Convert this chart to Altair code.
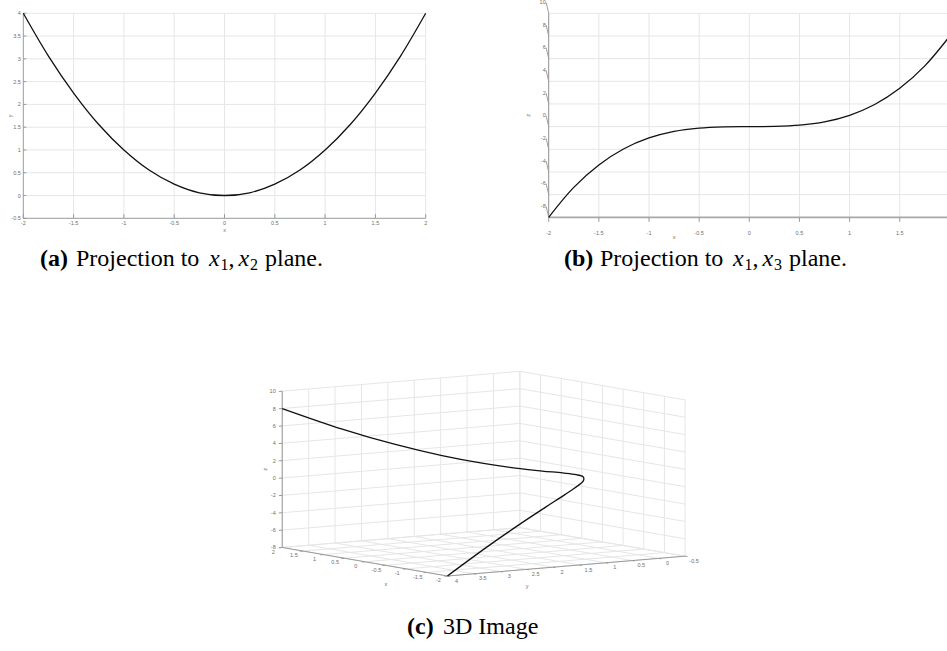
import math
import altair as alt
import pandas as pd

# Sampled points of the curve: (x1, x2, x3)
X1 = [-2.0, -1.75, -1.5, -1.25, -1.0, -0.75, -0.5, -0.25, 0.0,
      0.25, 0.5, 0.75, 1.0, 1.25, 1.5, 1.75, 2.0]
X2 = [4.0, 3.06, 2.25, 1.56, 1.0, 0.56, 0.25, 0.06, 0.0,
      0.06, 0.25, 0.56, 1.0, 1.56, 2.25, 3.06, 4.0]
X3 = [-8.0, -5.36, -3.38, -1.95, -1.0, -0.42, -0.13, -0.02, 0.0,
      0.02, 0.13, 0.42, 1.0, 1.95, 3.38, 5.36, 8.0]

# Axis ticks
X_TICKS = [-2, -1.5, -1, -0.5, 0, 0.5, 1, 1.5, 2]
Y_TICKS = [-0.5, 0, 0.5, 1, 1.5, 2, 2.5, 3, 3.5, 4]
Z_TICKS = [-8, -6, -4, -2, 0, 2, 4, 6, 8, 10]

GRID = "#e6e6e6"
AXIS = "#9a9a9a"
LABEL = "#6e6e6e"
SANS = "Liberation Sans"
SERIF = "Liberation Serif"
TICK_FS = 5.5


def fmt(v):
    return str(int(v)) if float(v).is_integer() else str(v)


def enc(sx, sy, two=False):
    e = dict(x=alt.X("x:Q", scale=sx, axis=None),
             y=alt.Y("y:Q", scale=sy, axis=None))
    if two:
        e.update(x2="x2:Q", y2="y2:Q")
    return e


def segments(rows, sx, sy, color, width=1.0):
    df = pd.DataFrame(rows, columns=["x", "y", "x2", "y2"])
    return alt.Chart(df).mark_rule(color=color, strokeWidth=width).encode(**enc(sx, sy, True))


def labels(rows, sx, sy, **kw):
    df = pd.DataFrame(rows, columns=["x", "y", "t"])
    opts = dict(font=SANS, fontSize=TICK_FS, color=LABEL, baseline="middle")
    opts.update(kw)
    return alt.Chart(df).mark_text(**opts).encode(text="t:N", **enc(sx, sy))


def curve(xs, ys, sx, sy):
    df = pd.DataFrame({"x": xs, "y": ys, "i": list(range(len(xs)))})
    return alt.Chart(df).mark_line(color="#111111", strokeWidth=1.3,
                                   interpolate="catmull-rom").encode(order="i:Q", **enc(sx, sy))


layers = []

# ---------- (a) x1-x2 projection ----------
ax = alt.Scale(domain=[-2, 2], range=[23.3, 425.7])
ay = alt.Scale(domain=[-0.5, 4], range=[218.3, 13.3])
layers.append(segments([(v, -0.5, v, 4) for v in X_TICKS[1:]] +
                       [(-2, v, 2, v) for v in Y_TICKS[1:]], ax, ay, GRID))
layers.append(segments([(-2, -0.5, -2, 4), (-2, -0.5, 2, -0.5)], ax, ay, AXIS))
layers.append(segments([(v, -0.5, v, -0.41) for v in X_TICKS] +
                       [(-2, v, -1.97, v) for v in Y_TICKS], ax, ay, AXIS))
layers.append(curve(X1, X2, ax, ay))
layers.append(labels([(v, -0.5, fmt(v)) for v in X_TICKS], ax, ay, dy=5))
layers.append(labels([(-2, v, fmt(v)) for v in Y_TICKS], ax, ay, align="right", dx=-2.5))
layers.append(labels([(0, -0.5, "x")], ax, ay, dy=11.7))
# rotated titles: dy moves the text sideways on screen
layers.append(labels([(-2, 1.75, "y")], ax, ay, dy=-13.3, angle=270))

# ---------- (b) x1-x3 projection ----------
bx = alt.Scale(domain=[-2, 2], range=[548.7, 949.9])
by = alt.Scale(domain=[-8, 10], range=[217.3, 13.3])
layers.append(segments([(v, -8, v, 10) for v in X_TICKS[1:]] +
                       [(-2, v, 2, v) for v in Z_TICKS[1:]], bx, by, GRID))
layers.append(segments([(-2, -8, -2, 10)], bx, by, "#8f8f8f"))
layers.append(segments([(-2, -8, 2, -8)], bx, by, "#a8a8a8", 1.7))
layers.append(segments([(v, -8, v, -8.4) for v in X_TICKS], bx, by, AXIS))
layers.append(segments([(-2.025, v + 0.95, -2, v) for v in Z_TICKS], bx, by, "#a0a0a0"))
layers.append(curve(X1, X3, bx, by))
# the last tick (x = 2) sits on the page edge and carries no label
layers.append(labels([(v, -8, fmt(v)) for v in X_TICKS[:-1]], bx, by, dy=15.7))
layers.append(labels([(-2, v, fmt(v)) for v in Z_TICKS], bx, by, align="right", dx=-3, dy=-11.3))
layers.append(labels([(-0.75, -8, "x")], bx, by, dy=20))
layers.append(labels([(-2, 1, "z")], bx, by, dy=-20.4, angle=270))

# ---------- (c) 3D view (orthographic) ----------
AZ = math.radians(235.2)
EL = math.radians(6.9)
Z_ASPECT = 0.544
BOX = [(-2, 2), (-0.5, 4), (-8, 10)]


def project(x, y, z):
    n = [(v - (lo + hi) / 2) / (hi - lo) for v, (lo, hi) in zip((x, y, z), BOX)]
    sx = n[0] * math.cos(AZ) + n[1] * math.sin(AZ)
    su = (-n[0] * math.sin(AZ) * math.sin(EL) + n[1] * math.cos(AZ) * math.sin(EL)
          + n[2] * Z_ASPECT * math.cos(EL))
    return sx, su


def seg3(pairs):
    return [project(*p) + project(*q) for p, q in pairs]


CX, CY, K = 483.65, 473.66, 289.4
cx = alt.Scale(domain=[-1, 1], range=[CX - K, CX + K])
cy = alt.Scale(domain=[-1, 1], range=[CY + K, CY - K])

grid3 = []
grid3 += [((v, -0.5, -8), (v, 4, -8)) for v in X_TICKS]
grid3 += [((-2, v, -8), (2, v, -8)) for v in Y_TICKS]
grid3 += [((2, v, -8), (2, v, 10)) for v in Y_TICKS]
grid3 += [((2, -0.5, v), (2, 4, v)) for v in Z_TICKS]
grid3 += [((v, -0.5, -8), (v, -0.5, 10)) for v in X_TICKS]
grid3 += [((-2, -0.5, v), (2, -0.5, v)) for v in Z_TICKS]
layers.append(segments(seg3(grid3), cx, cy, GRID))

axes3 = [((2, 4, -8), (2, 4, 10)), ((-2, 4, -8), (2, 4, -8)), ((-2, -0.5, -8), (-2, 4, -8))]
layers.append(segments(seg3(axes3), cx, cy, AXIS))
ticks3 = ([((2, 4, v), (2, 4.065, v)) for v in Z_TICKS] +
          [((v, 4, -8), (v, 4.06, -8)) for v in X_TICKS] +
          [((-2, v, -8), (-2.06, v, -8)) for v in Y_TICKS])
layers.append(segments(seg3(ticks3), cx, cy, AXIS))

pts = [project(a, b, c) for a, b, c in zip(X1, X2, X3)]
layers.append(curve([p[0] for p in pts], [p[1] for p in pts], cx, cy))

layers.append(labels([project(2, 4, v) + (fmt(v),) for v in Z_TICKS], cx, cy, align="right", dx=-6.5))
layers.append(labels([project(v, 4, -8) + (fmt(v),) for v in X_TICKS], cx, cy, dx=-9, dy=4.3))
layers.append(labels([project(-2, v, -8) + (fmt(v),) for v in Y_TICKS], cx, cy, dx=9, dy=4.6))
layers.append(labels([project(0, 4, -8) + ("x",)], cx, cy, dx=21, dy=22))
layers.append(labels([project(-2, 1.75, -8) + ("y",)], cx, cy, dx=-39, dy=20.3))
layers.append(labels([project(2, 4, 1) + ("z",)], cx, cy, dy=-17, angle=270))


# ---------- captions ----------
def piece(text, x, y, size=24, weight="normal", style="normal"):
    return alt.Chart(pd.DataFrame({"t": [text]})).mark_text(
        font=SERIF, fontSize=size, fontWeight=weight, fontStyle=style,
        align="left", baseline="alphabetic", color="black"
    ).encode(x=alt.value(x), y=alt.value(y), text="t:N")


def projection_caption(tag, sub, x0, base):
    return [
        piece(f"({tag})", x0, base, weight="bold"),
        piece("Projection to", x0 + 36, base),
        piece("x", x0 + 169, base, style="italic"),
        piece("1", x0 + 180.5, base + 4, size=16),
        piece(",", x0 + 188.6, base),
        piece("x", x0 + 198.4, base, style="italic"),
        piece(sub, x0 + 210, base + 4, size=16),
        piece("plane.", x0 + 225, base),
    ]


layers += projection_caption("a", "2", 40, 266)
layers += projection_caption("b", "3", 564, 266)
layers += [piece("(c)", 407, 634, weight="bold"), piece("3D Image", 443, 634)]

chart = alt.layer(*layers).resolve_scale(
    x="independent", y="independent"
).properties(
    width=947, height=651, padding=0, background="white",
    autosize=alt.AutoSizeParams(type="none"),
).configure_view(stroke=None)

chart.save("out.html", embed_options={"renderer": "svg", "actions": False})
